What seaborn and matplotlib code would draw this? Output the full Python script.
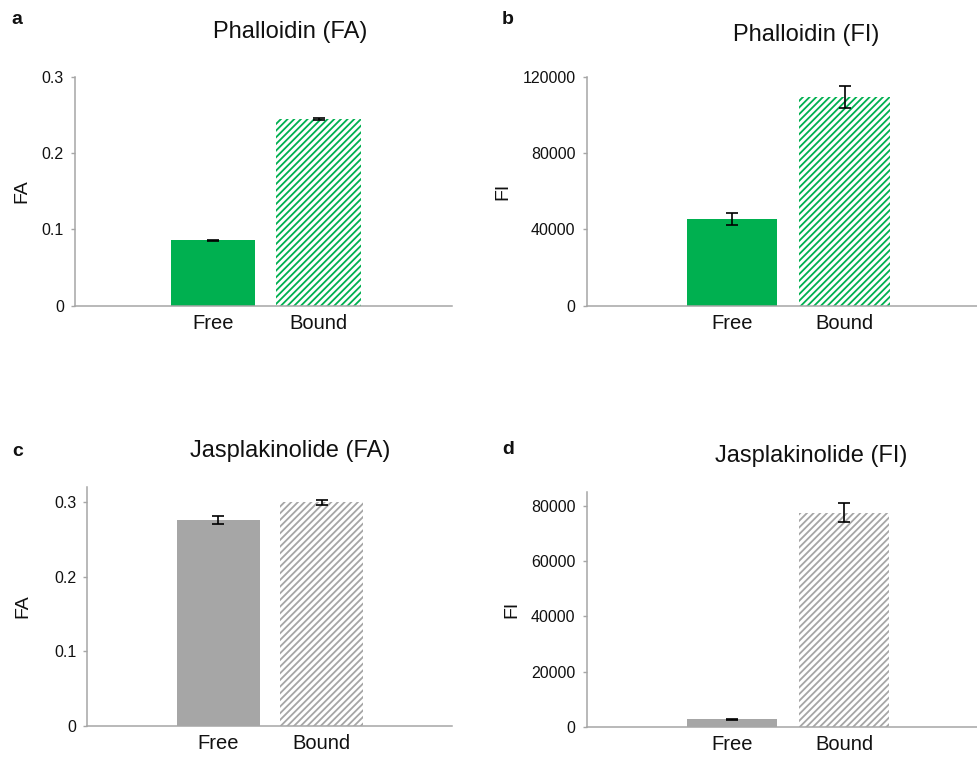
import matplotlib
matplotlib.use("Agg")
import matplotlib.pyplot as plt
import seaborn as sns

sns.set_theme(style="white")
plt.rcParams["font.family"] = ["Liberation Sans", "DejaVu Sans"]
plt.rcParams["hatch.linewidth"] = 1.3

categories = ["Free", "Bound"]

phal_fa = [0.086, 0.245]
phal_fa_err = [0.0006, 0.0015]
phal_fi = [45500, 109500]
phal_fi_err = [3300, 5600]
jasp_fa = [0.276, 0.300]
jasp_fa_err = [0.0055, 0.0035]
jasp_fi = [2700, 77600]
jasp_fi_err = [250, 3400]

green = "#00B050"
grey = "#A6A6A6"
spine_col = "#A6A6A6"

W, H = 977, 759
fig = plt.figure(figsize=(W / 100, H / 100), dpi=100)


def box(left, right, top, bottom):
    return [left / W, 1 - bottom / H, (right - left) / W, (bottom - top) / H]


def panel(rect, values, errs, color, ylim, yticks, yticklabels, ylabel, xlim, ylab_x):
    ax = fig.add_axes(rect)
    sns.barplot(x=categories, y=values, hue=categories, palette=[color, "white"],
                legend=False, width=0.8, saturation=1, ax=ax)
    bound = ax.patches[1]
    bound.set_hatch("/////")
    bound.set_edgecolor(color)
    bound.set_linewidth(0)
    ax.patches[0].set_linewidth(0)
    ax.errorbar([0, 1], values, yerr=errs, fmt="none", ecolor="black",
                elinewidth=1.2, capsize=4, capthick=1.2, zorder=5)
    ax.set_ylim(*ylim)
    ax.set_xlim(*xlim)
    ax.set_yticks(yticks)
    ax.set_yticklabels(yticklabels)
    ax.tick_params(axis="y", left=True, length=3, width=1, color=spine_col,
                   labelsize=11.5, pad=5, labelcolor="#111111")
    ax.tick_params(axis="x", length=0, labelsize=14.5, pad=6, labelcolor="#111111")
    for s in ["top", "right"]:
        ax.spines[s].set_visible(False)
    for s in ["left", "bottom"]:
        ax.spines[s].set_color(spine_col)
        ax.spines[s].set_linewidth(1.1)
    ax.set_xlabel("")
    ax.set_ylabel(ylabel, fontsize=14, va="center", color="#111111")
    ax.yaxis.set_label_coords(ylab_x, 0.5)
    return ax


panel(box(75, 452, 77, 305.7), phal_fa, phal_fa_err, green, (0, 0.3),
      [0, 0.1, 0.2, 0.3], ["0", "0.1", "0.2", "0.3"], "FA", (-1.308, 2.265), -0.14)
panel(box(586.7, 976.7, 77, 305.7), phal_fi, phal_fi_err, green, (0, 120000),
      [0, 40000, 80000, 120000], ["0", "40000", "80000", "120000"], "FI", (-1.286, 2.171), -0.215)
panel(box(87.3, 451.7, 487.3, 725.7), jasp_fa, jasp_fa_err, grey, (0, 0.32),
      [0, 0.1, 0.2, 0.3], ["0", "0.1", "0.2", "0.3"], "FA", (-1.271, 2.26), -0.176)
panel(box(586.7, 976.7, 492.3, 726.7), jasp_fi, jasp_fi_err, grey, (0, 85000),
      [0, 20000, 40000, 60000, 80000], ["0", "20000", "40000", "60000", "80000"], "FI",
      (-1.29, 2.177), -0.192)

titles = [("Phalloidin (FA)", 290, 32), ("Phalloidin (FI)", 806, 35),
          ("Jasplakinolide (FA)", 290, 451), ("Jasplakinolide (FI)", 811, 456)]
for t, x, y in titles:
    fig.text(x / W, 1 - y / H, t, ha="center", va="center", fontsize=17, color="#111111")

letters = [("a", 17, 19), ("b", 508, 19), ("c", 18, 451), ("d", 508, 450)]
for t, x, y in letters:
    fig.text(x / W, 1 - y / H, t, ha="center", va="center", fontsize=14,
             fontweight="bold", color="#111111")

fig.savefig("out.png", dpi=100)
